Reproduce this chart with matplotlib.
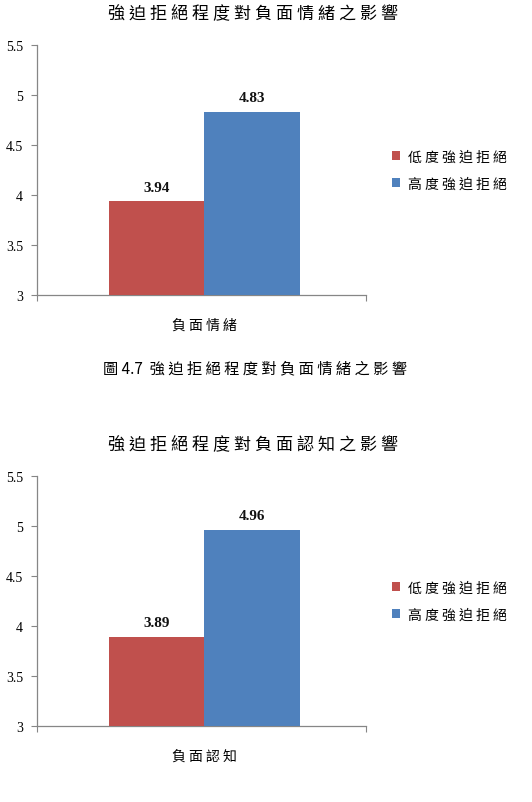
import matplotlib
matplotlib.use("Agg")
import matplotlib.pyplot as plt

CJK = ['Noto Sans CJK TC', 'DejaVu Sans']
SERIF = ['Liberation Serif', 'DejaVu Serif']

series_names = ['低度強迫拒絕', '高度強迫拒絕']
colors = ['#C0504D', '#4F81BD']

title1 = '強迫拒絕程度對負面情緒之影響'
category1 = '負面情緒'
values1 = [3.94, 4.83]

title2 = '強迫拒絕程度對負面認知之影響'
category2 = '負面認知'
values2 = [3.89, 4.96]

caption_num = '圖 4.7'
caption_text = '強迫拒絕程度對負面情緒之影響'

yticks = [3, 3.5, 4, 4.5, 5, 5.5]
ytick_labels = ['3', '3.5', '4', '4.5', '5', '5.5']


def spaced(s):
    # emulate the wide letter spacing of the original CJK typography
    return ' '.join(s)


W, H = 532, 803
fig = plt.figure(figsize=(W / 100, H / 100), dpi=100)


def make_chart(top_px, title, category, values):
    left = 37 / W
    width = (366 - 37) / W
    height = 250 / H
    bottom = 1 - (top_px + 250) / H
    ax = fig.add_axes([left, bottom, width, height])
    bw = 0.29
    offsets = [-bw / 2, bw / 2]
    for off, v, c, name in zip(offsets, values, colors, series_names):
        ax.bar(0 + off, v - 3, bottom=3, width=bw, color=c,
               label=spaced(name), zorder=3)
        ax.text(0 + off, v + 0.075, f'{v:.2f}', ha='center', va='bottom',
                fontsize=11, fontweight='bold', family=SERIF, color='#111111')
    ax.set_xlim(-0.508, 0.492)
    ax.set_ylim(3, 5.5)
    ax.set_yticks(yticks)
    ax.set_yticklabels(ytick_labels, family=SERIF, fontsize=10)
    ax.set_xticks([-0.508, 0.492])
    ax.set_xticklabels(['', ''])
    ax.set_xticks([0], minor=True)
    ax.set_xticklabels([spaced(category)], minor=True, family=CJK, fontsize=10)
    ax.tick_params(axis='x', which='minor', length=0, pad=16)
    ax.tick_params(axis='x', which='major', length=4, color='#868686')
    ax.tick_params(axis='y', length=4, color='#868686', pad=6)
    for s in ['top', 'right']:
        ax.spines[s].set_visible(False)
    for s in ['left', 'bottom']:
        ax.spines[s].set_color('#868686')
        ax.spines[s].set_linewidth(0.9)
    fig.text(253 / W, 1 - (top_px - 32) / H, spaced(title), ha='center',
             va='center', family=CJK, fontsize=12.3)
    ax.legend(loc='center left', bbox_to_anchor=(1.04, 0.50), frameon=False,
              prop={'family': CJK, 'size': 10}, handlelength=0.6,
              handleheight=0.6, handletextpad=0.55, labelspacing=0.9)
    return ax


make_chart(46, title1, category1, values1)
fig.text(103 / W, 1 - 369 / H, caption_num + '  ' + spaced(caption_text),
         ha='left', va='center', family=CJK, fontsize=11)
make_chart(477, title2, category2, values2)

fig.savefig('out.png', dpi=100)
